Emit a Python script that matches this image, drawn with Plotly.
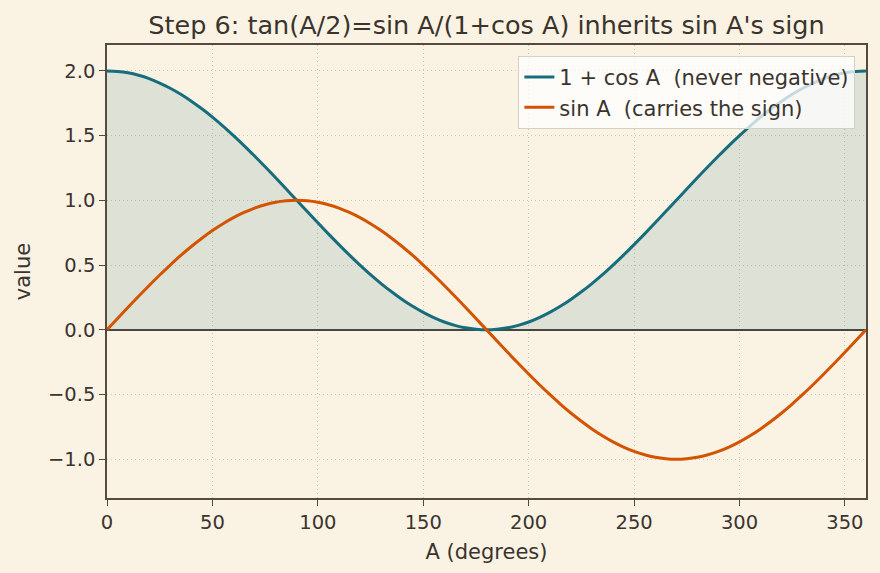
import plotly.graph_objects as go

# Angles in degrees
angle_deg = [0, 5, 10, 15, 20, 25, 30, 35, 40, 45, 50, 55, 60, 65, 70, 75, 80, 85, 90,
             95, 100, 105, 110, 115, 120, 125, 130, 135, 140, 145, 150, 155, 160, 165, 170, 175, 180,
             185, 190, 195, 200, 205, 210, 215, 220, 225, 230, 235, 240, 245, 250, 255, 260, 265, 270,
             275, 280, 285, 290, 295, 300, 305, 310, 315, 320, 325, 330, 335, 340, 345, 350, 355, 360]
# 1 + cos A
one_plus_cos = [2.000, 1.996, 1.985, 1.966, 1.940, 1.906, 1.866, 1.819, 1.766, 1.707, 1.643, 1.574,
                1.500, 1.423, 1.342, 1.259, 1.174, 1.087, 1.000,
                0.913, 0.826, 0.741, 0.658, 0.577, 0.500, 0.426, 0.357, 0.293, 0.234, 0.181, 0.134,
                0.094, 0.060, 0.034, 0.015, 0.004, 0.000,
                0.004, 0.015, 0.034, 0.060, 0.094, 0.134, 0.181, 0.234, 0.293, 0.357, 0.426, 0.500,
                0.577, 0.658, 0.741, 0.826, 0.913, 1.000,
                1.087, 1.174, 1.259, 1.342, 1.423, 1.500, 1.574, 1.643, 1.707, 1.766, 1.819, 1.866,
                1.906, 1.940, 1.966, 1.985, 1.996, 2.000]
# sin A
sin_a = [0.000, 0.087, 0.174, 0.259, 0.342, 0.423, 0.500, 0.574, 0.643, 0.707, 0.766, 0.819,
         0.866, 0.906, 0.940, 0.966, 0.985, 0.996, 1.000,
         0.996, 0.985, 0.966, 0.940, 0.906, 0.866, 0.819, 0.766, 0.707, 0.643, 0.574, 0.500,
         0.423, 0.342, 0.259, 0.174, 0.087, 0.000,
         -0.087, -0.174, -0.259, -0.342, -0.423, -0.500, -0.574, -0.643, -0.707, -0.766, -0.819,
         -0.866, -0.906, -0.940, -0.966, -0.985, -0.996, -1.000,
         -0.996, -0.985, -0.966, -0.940, -0.906, -0.866, -0.819, -0.766, -0.707, -0.643, -0.574,
         -0.500, -0.423, -0.342, -0.259, -0.174, -0.087, 0.000]

x_ticks = [0, 50, 100, 150, 200, 250, 300, 350]
y_ticks = [-1.0, -0.5, 0.0, 0.5, 1.0, 1.5, 2.0]

TEAL = "#176d7c"
ORANGE = "#d35400"
BG = "#faf3e3"
TXT = "#3b342e"
SPINE = "#544a40"
FONT = "DejaVu Sans"

fig = go.Figure()
fig.add_trace(go.Scatter(x=angle_deg, y=one_plus_cos, mode="lines", line=dict(width=0, shape="spline"),
                         fill="tozeroy", fillcolor="rgba(23,109,124,0.12)", showlegend=False,
                         hoverinfo="skip"))
fig.add_trace(go.Scatter(x=angle_deg, y=one_plus_cos, mode="lines",
                         line=dict(color=TEAL, width=3, shape="spline"),
                         name="1 + cos A\u00a0\u00a0(never negative)"))
fig.add_trace(go.Scatter(x=angle_deg, y=sin_a, mode="lines",
                         line=dict(color=ORANGE, width=3, shape="spline"),
                         name="sin A\u00a0\u00a0(carries the sign)"))

axis_common = dict(showline=True, mirror=True, linecolor=SPINE, linewidth=1.5,
                   ticks="outside", ticklen=6, tickwidth=1.2, tickcolor=SPINE,
                   showgrid=True, gridcolor="#cdc5b5", griddash="1px,3px", gridwidth=1,
                   tickfont=dict(family=FONT, size=19.5, color=TXT))

fig.update_xaxes(range=[0, 360], tickvals=x_ticks, zeroline=False,
                 title=dict(text="A (degrees)", font=dict(family=FONT, size=21, color=TXT), standoff=11),
                 **axis_common)
fig.update_yaxes(range=[-1.3, 2.2], tickvals=y_ticks, tickformat=".1f",
                 zeroline=True, zerolinecolor="#4a4540", zerolinewidth=1.6,
                 title=dict(text="value", font=dict(family=FONT, size=21, color=TXT), standoff=12),
                 **axis_common)

fig.update_layout(
    width=880, height=573,
    margin=dict(l=107, r=12, t=45, b=75),
    paper_bgcolor=BG, plot_bgcolor=BG,
    font=dict(family=FONT, color=TXT),
    title=dict(text="Step 6: tan(A/2)=sin A/(1+cos A) inherits sin A's sign",
               font=dict(family=FONT, size=25.5, color=TXT),
               x=0.5, xref="paper", xanchor="center", y=0.957, yref="container", yanchor="middle"),
    legend=dict(x=0.986, y=0.976, xanchor="right", yanchor="top",
                bgcolor="rgba(255,255,255,0.75)", bordercolor="#d3d0c8", borderwidth=1,
                font=dict(family=FONT, size=21, color=TXT), itemwidth=30),
    showlegend=True,
)

fig.write_html("out.html")
